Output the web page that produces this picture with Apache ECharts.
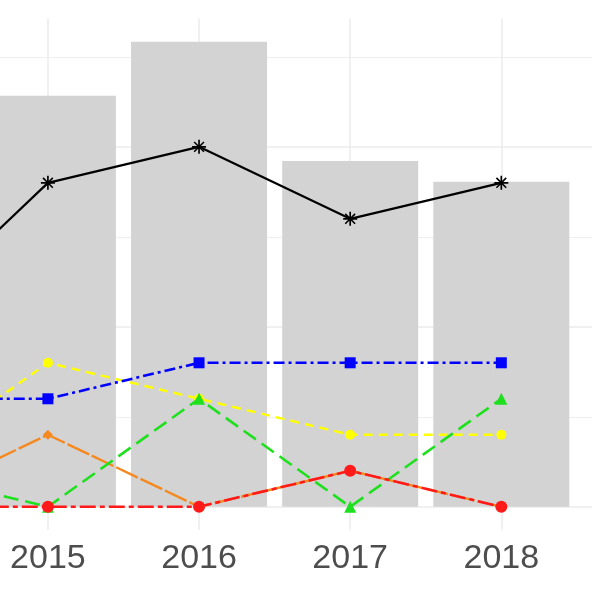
<!DOCTYPE html>
<html>
<head>
<meta charset="utf-8">
<script src="https://cdn.jsdelivr.net/npm/echarts@6/dist/echarts.min.js"></script>
<style>html,body{margin:0;padding:0;background:#fff}#c{width:600px;height:600px}</style>
</head>
<body>
<div id="c"></div>
<script>
// data
var years = [2014, 2015, 2016, 2017, 2018];
var tickYears = [2015, 2016, 2017, 2018];
var barValues = [null, 11.42, 12.92, 9.61, 9.03];
var blackValues = [5, 9, 10, 8, 9];
var blueValues = [3, 3, 4, 4, 4];
var yellowValues = [1, 4, 3, 2, 2];
var greenValues = [1, 0, 3, 0, 3];
var orangeValues = [0, 2, 0, 1, 0];
var redValues = [0, 0, 0, 1, 0];
var yGridMajor = [0, 5, 10];
var yGridMinor = [2.5, 7.5, 12.5];

function pairs(vals) { return years.map(function (y, i) { return [y, vals[i]]; }); }

var asterisk = 'path://M44,0L56,0L56,100L44,100Z M0,44L100,44L100,56L0,56Z M19,11L89,81L81,89L11,19Z M81,11L89,19L19,89L11,81Z';

function lineSeries(name, vals, color, dash, symbol, size, width, z) {
  return {
    name: name, type: 'line', data: pairs(vals), z: z,
    symbol: symbol, symbolSize: size, showSymbol: true,
    itemStyle: { color: color },
    lineStyle: { color: color, width: width, type: dash },
    emphasis: { disabled: true }, animation: false
  };
}

var gridLines = [];
yGridMajor.forEach(function (v) { gridLines.push({ yAxis: v, lineStyle: { width: 1.5 } }); });
yGridMinor.forEach(function (v) { gridLines.push({ yAxis: v, lineStyle: { width: 0.8 } }); });
tickYears.forEach(function (v) { gridLines.push({ xAxis: v, lineStyle: { width: 1.5 } }); });

var chart = echarts.init(document.getElementById('c'), null, { renderer: 'canvas' });
chart.setOption({
  backgroundColor: '#ffffff',
  animation: false,
  grid: { left: 0, right: 8, top: 18.5, bottom: 70, containLabel: false },
  xAxis: {
    type: 'value', min: 2014.683, max: 2018.6,
    axisLine: { show: false }, axisTick: { show: false, customValues: tickYears },
    splitLine: { show: false },
    axisLabel: {
      customValues: tickYears, formatter: function (v) { return String(v); },
      fontSize: 34, color: '#4d4d4d', fontFamily: 'Liberation Sans', margin: 12
    }
  },
  yAxis: {
    type: 'value', min: -0.646, max: 13.566,
    axisLine: { show: false }, axisTick: { show: false }, axisLabel: { show: false },
    splitLine: { show: false }
  },
  series: [
    {
      name: 'total', type: 'bar', data: pairs(barValues), barWidth: 136, z: 2,
      itemStyle: { color: '#d3d3d3' }, emphasis: { disabled: true },
      markLine: {
        silent: true, symbol: 'none', z: 1, animation: false,
        label: { show: false },
        lineStyle: { color: '#ebebeb', type: 'solid' },
        data: gridLines
      }
    },
    lineSeries('orange', orangeValues, '#f5881f', [24, 3], 'diamond', 10, 2.4, 3),
    lineSeries('yellow', yellowValues, '#ffff00', [9, 6], 'circle', 10, 2.4, 4),
    lineSeries('green', greenValues, '#1ee01e', [15, 7], 'triangle', 12, 2.6, 5),
    lineSeries('blue', blueValues, '#0000ff', [3, 4, 11, 4], 'rect', 11, 2.6, 6),
    lineSeries('red', redValues, '#ff1a1a', [5, 4, 16, 4], 'circle', 12, 2.6, 7),
    lineSeries('black', blackValues, '#000000', 'solid', asterisk, 14, 2.2, 8)
  ]
});
</script>
</body>
</html>
